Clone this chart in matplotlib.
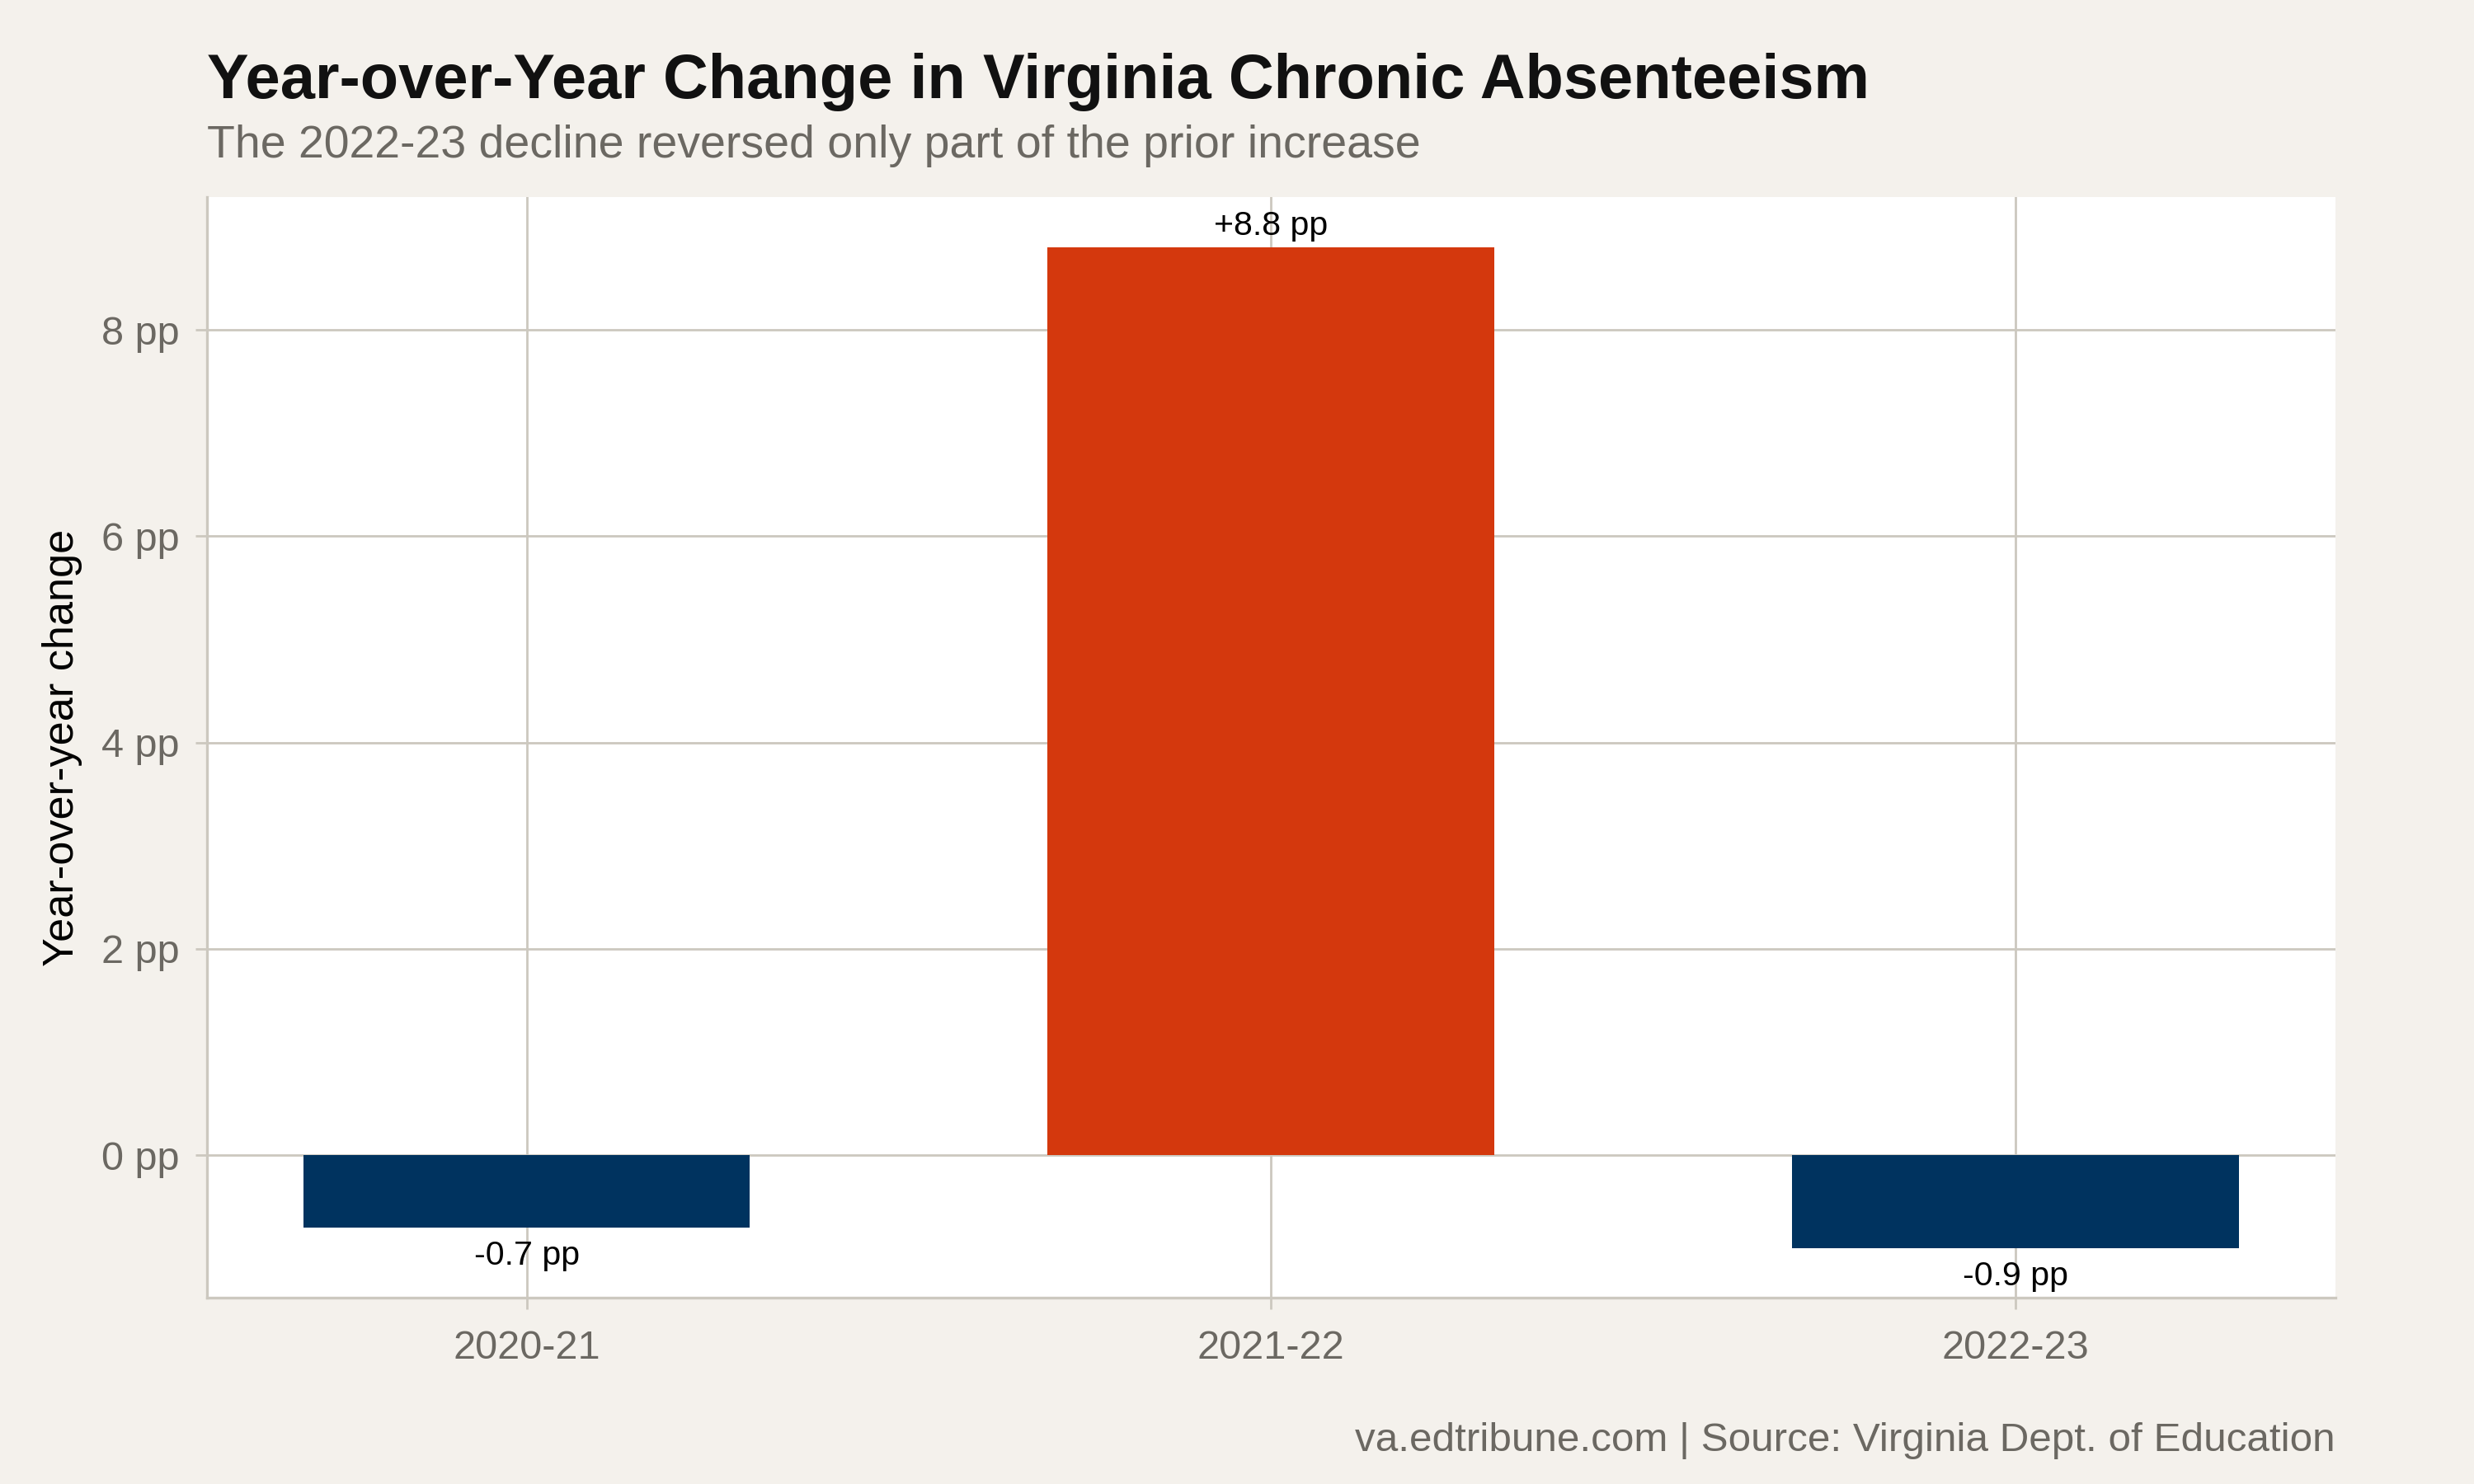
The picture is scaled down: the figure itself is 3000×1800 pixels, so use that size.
import matplotlib.pyplot as plt

plt.rcParams["font.family"] = ["Liberation Sans", "DejaVu Sans"]

years = ["2020-21", "2021-22", "2022-23"]
changes = [-0.7, 8.8, -0.9]
labels = ["-0.7 pp", "+8.8 pp", "-0.9 pp"]
yticks = [0, 2, 4, 6, 8]

BG = "#F4F1EC"
GRID = "#CCC8BF"
RED = "#D4380D"
NAVY = "#00335F"
GREY = "#6B6862"

fig = plt.figure(figsize=(15, 9), dpi=200, facecolor=BG)
ax = fig.add_axes([0.0835, 0.1254, 0.8605, 0.7416])
ax.set_facecolor("white")

x = list(range(1, len(years) + 1))
colors = [RED if v > 0 else NAVY for v in changes]
ax.bar(x, changes, width=0.6, color=colors, zorder=2)

for xi, v, lab in zip(x, changes, labels):
    if v > 0:
        ax.annotate(lab, (xi, v), xytext=(0, 2.5), textcoords="offset points",
                    ha="center", va="bottom", fontsize=14.8, color="black", zorder=3)
    else:
        ax.annotate(lab, (xi, v), xytext=(0, -5.5), textcoords="offset points",
                    ha="center", va="top", fontsize=14.8, color="black", zorder=3)

ax.set_xlim(0.57, 3.43)
ax.set_ylim(-1.385, 9.285)
ax.set_xticks(x)
ax.set_xticklabels(years)
ax.set_yticks(yticks)
ax.set_yticklabels([f"{t} pp" for t in yticks])

ax.grid(True, color=GRID, linewidth=1.0, zorder=0)
ax.set_axisbelow(True)
for side in ["top", "right"]:
    ax.spines[side].set_visible(False)
for side in ["left", "bottom"]:
    ax.spines[side].set_color(GRID)
    ax.spines[side].set_linewidth(1.2)

ax.tick_params(axis="both", colors=GRID, length=5, width=1.0, labelsize=17.5,
               labelcolor=GREY)
ax.tick_params(axis="x", pad=9)
ax.tick_params(axis="y", pad=7)
ax.set_ylabel("Year-over-year change", fontsize=18.8, color="black", labelpad=8)

fig.text(0.0835, 0.934, "Year-over-Year Change in Virginia Chronic Absenteeism",
         fontsize=27.3, fontweight="bold", color="#111111", ha="left", va="baseline")
fig.text(0.0835, 0.894, "The 2022-23 decline reversed only part of the prior increase",
         fontsize=20, color=GREY, ha="left", va="baseline")
fig.text(0.944, 0.022, "va.edtribune.com | Source: Virginia Dept. of Education",
         fontsize=17.8, color=GREY, ha="right", va="baseline")

fig.savefig("out.png", dpi=200, facecolor=BG)
